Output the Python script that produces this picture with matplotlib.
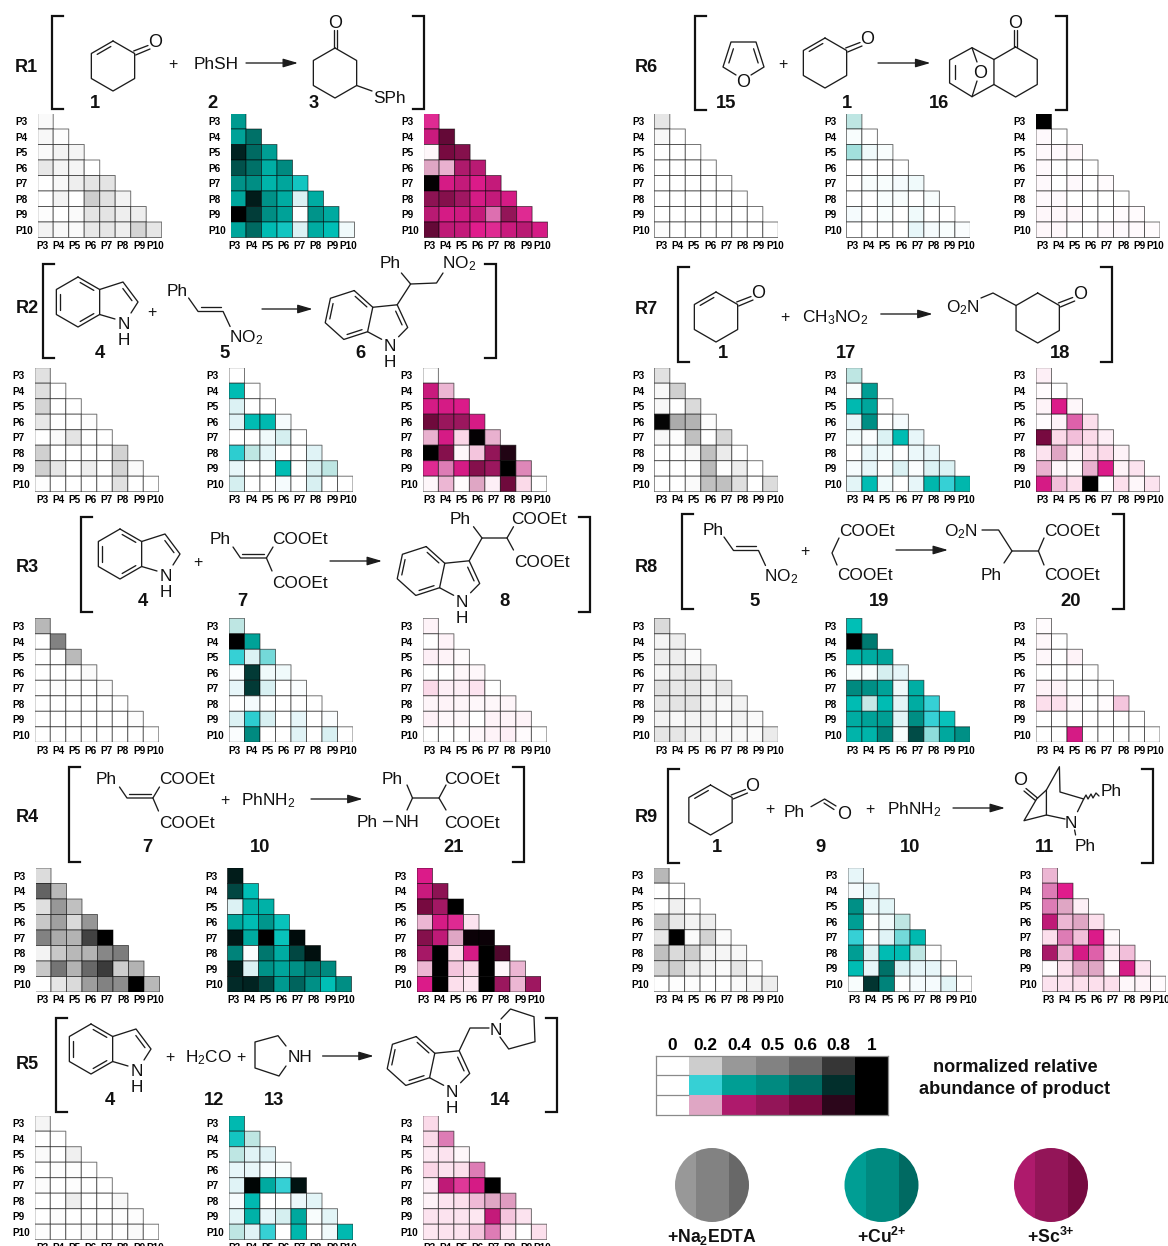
import numpy as np
import matplotlib
matplotlib.use('Agg')
import matplotlib.pyplot as plt
from matplotlib.colors import LinearSegmentedColormap
from matplotlib.patches import Circle, Rectangle

plt.rcParams['font.family'] = ['Liberation Sans', 'DejaVu Sans']
plt.rcParams['mathtext.fontset'] = 'custom'
plt.rcParams['mathtext.rm'] = 'Liberation Sans'
plt.rcParams['mathtext.bf'] = 'Liberation Sans:bold'
plt.rcParams['mathtext.default'] = 'regular'

# data: each row is one Px, cells P3..Px
PEPTIDES = ['P3', 'P4', 'P5', 'P6', 'P7', 'P8', 'P9', 'P10']
LEVELS = [0, 0.2, 0.4, 0.5, 0.6, 0.8, 1]
LEVEL_LABELS = ['0', '0.2', '0.4', '0.5', '0.6', '0.8', '1']

R1_EDTA = [[.02], [.03, .01], [.02, .05, .04], [.09, .04, .04, 0], [0, .03, .07, .11, .11],
           [0, .05, 0, .2, .12, .05], [.01, 0, .02, .11, .11, .07, .07], [.05, .03, .02, .09, .1, .07, .17, .1]]
R1_CU = [[.42], [.38, .58], [.85, .6, .4], [.68, .58, .32, .5], [.46, .48, .3, .36, .24],
         [.36, .88, .46, .33, .08, .33], [1, .75, .48, .38, 0, .45, .34], [.36, .6, .27, .24, .08, .33, .26, .03]]
R1_SC = [[.3], [.35, .65], [.02, .6, .55], [.2, .17, .4, .38], [.98, .33, .36, .32, .36],
         [.52, .55, .45, .33, .36, .33], [.38, .33, .34, .36, .25, .5, .3], [.65, .37, .36, .31, .3, .35, .38, .33]]

R2_EDTA = [[.12], [.13, 0], [.17, 0, 0], [.09, 0, 0, .01], [0, .02, .11, 0, 0],
           [.19, 0, 0, 0, 0, .18], [.19, .1, 0, .07, 0, .17, .02], [.01, 0, 0, 0, 0, .12, 0, 0]]
R2_CU = [[0], [.27, 0], [.08, 0, 0], [.07, .27, .28, .02], [0, 0, .03, .1, 0],
         [.21, .13, .06, 0, 0, .07], [.05, 0, 0, .27, 0, .09, .13], [.1, 0, 0, .02, 0, .09, 0, 0]]
R2_SC = [[0], [.35, .16], [.33, .33, .32], [.62, .48, .47, .33], [.17, .33, .1, .98, .17],
         [1, .55, .02, .13, .5, .85], [.3, .24, .33, .55, .47, 1, .23], [.02, .16, .01, .2, .04, .62, .09, 0]]

R3_EDTA = [[.28], [0, .5], [0, 0, .27], [0, 0, 0, .02], [0, .01, 0, 0, .015],
           [0, 0, 0, 0, 0, 0], [0, 0, 0, 0, 0, 0, .015], [0, 0, 0, 0, 0, 0, 0, 0]]
R3_CU = [[.13], [1, .38], [.2, .08, .17], [.01, .76, .03, .03], [.05, .76, .09, 0, .01],
         [0, .02, 0, 0, 0, 0], [.08, .21, .09, 0, .05, 0, .01], [.01, .5, 0, 0, .07, 0, .09, 0]]
R3_SC = [[.03], [0, .03], [.04, .03, .01], [0, 0, .02, .02], [.09, .04, .04, .07, 0],
         [.025, .03, .025, .02, .02, .025], [.035, .02, .02, 0, .03, .03, .03], [0, 0, 0, .02, .03, .04, .01, 0]]

R4_EDTA = [[.14], [.62, .28], [.13, .4, .25], [.22, .37, .15, .41], [.5, .33, .3, .75, 1],
           [.05, .22, .28, .3, .48, .52], [.22, .55, .3, .6, .78, .2, .3], [0, .1, .15, .38, .5, .45, 1, .28]]
R4_CU = [[.88], [.72, .26], [.08, .3, .31], [.35, .27, .44, .25], [.9, .34, 1, .25, .95],
         [.52, .01, .56, .33, .72, .93], [.86, .08, .46, .36, .47, .56, .5], [.82, .85, .72, .42, .62, .47, .26, .48]]
R4_SC = [[.32], [.35, .52], [.6, .44, 1], [.16, .33, .3, .07], [.55, .37, .2, .95, .95],
         [.43, 1, .08, .33, 1, .7], [.16, 1, .13, .09, 1, .02, .16], [.32, 1, .08, .06, 1, .47, .16, .46]]

R5_EDTA = [[.04], [0, 0], [.02, 0, .06], [0, .01, .01, 0], [.015, 0, .01, 0, 0],
           [0, 0, .07, 0, 0, .03], [0, .01, 0, 0, 0, .01, .01], [.01, 0, 0, .02, 0, .01, .02, 0]]
R5_CU = [[.28], [.24, .13], [.13, .07, .07], [.05, .05, .02, .015], [.07, .98, .34, .2, .92],
         [.02, .28, 0, 0, .04, .06], [.06, .31, .05, .1, .35, .015, .06], [.13, .07, .2, 0, .29, 0, .03, .28]]
R5_SC = [[.09], [.09, .24], [.05, .07, .02], [.1, .07, .08, .24], [.04, .37, .29, .33, 1],
         [.03, .07, .08, .15, .2, .21], [.07, .07, .07, .06, .36, .13, .07], [.06, .07, .07, .13, .24, .07, 0, .08]]

R6_EDTA = [[.1], [.03, 0], [0, 0, 0], [0, 0, 0, 0], [0, 0, 0, 0, 0],
           [0, 0, 0, 0, 0, 0], [0, 0, 0, 0, 0, 0, 0], [.015, 0, 0, 0, 0, 0, 0, 0]]
R6_CU = [[.13], [.015, 0], [.15, .03, .015], [0, 0, 0, 0], [0, .015, .015, .02, .03],
         [0, 0, .015, .015, 0, .015], [.02, 0, .015, 0, .03, 0, 0], [0, 0, 0, 0, .05, .02, .015, .01]]
R6_SC = [[1], [.015, 0], [.015, .015, .02], [.015, 0, 0, 0], [.015, 0, .015, 0, .01],
         [.015, .015, 0, 0, 0, 0], [.02, .02, .02, 0, 0, .01, .01], [.02, .02, 0, 0, .015, .015, .015, .01]]

R7_EDTA = [[.12], [.03, .19], [.03, 0, .15], [.98, .33, .3, .01], [.03, .01, .25, 0, .16],
           [0, 0, .03, .25, .08, 0], [0, 0, 0, .27, .01, .07, 0], [0, 0, .02, .25, .25, .13, 0, .14]]
R7_CU = [[.13], [.015, .4], [.28, .36, 0], [.05, .48, 0, .02], [.03, .01, .08, .27, .05],
         [0, .05, .03, 0, .04, .05], [.02, .05, 0, .08, .01, .08, .08], [.06, .27, .03, 0, .05, .29, .2, .29]]
R7_SC = [[.04], [.01, 0], [.03, .32, .02], [.01, .03, .26, .08], [.6, .09, .14, .09, .04],
         [.07, .2, .03, .08, .09, .03], [.17, .02, .01, .17, .32, .03, .07], [.33, .14, .08, 1, 0, .08, .02, .07]]

R8_EDTA = [[.15], [.04, .07], [.07, .07, .02], [.04, .08, .1, .07], [.12, .09, .1, .05, .09],
           [.09, .11, .11, .05, .03, .05], [.05, .03, .05, .05, 0, .05, .02], [.1, .1, .06, .05, .03, .03, .02, .08]]
R8_CU = [[.26], [1, .55], [.3, .33, .37], [.015, .015, .1, .05], [.5, .47, .38, .03, .32],
         [.27, .12, .27, .06, .33, .2], [.33, .38, .4, .06, .48, .2, .25], [.3, .3, .52, .015, .7, .16, .35, .47]]
R8_SC = [[.01], [.02, 0], [.02, 0, .03], [0, 0, 0, 0], [.03, .03, 0, 0, 0],
         [.08, .08, .02, 0, .01, .13], [0, 0, 0, 0, 0, 0, 0], [0, 0, .33, 0, 0, 0, 0, 0]]

R9_EDTA = [[.28], [0, 0], [0, .06, 0], [.22, .09, .05, .07], [.1, 1, .02, .18, .02],
           [.25, .15, .2, .05, .04, .03], [.17, .2, .08, .05, .02, .1, .01], [0, .01, .01, 0, 0, .02, .04, .07]]
R9_CU = [[.05], [.02, .05], [.47, .04, .06], [.4, 0, .03, .13], [.2, 0, .07, .17, .28],
         [.4, .08, .27, .27, .13, 0], [.27, .05, .58, .08, .05, .05, 0], [.015, .78, .52, 0, .02, .02, .06, 0]]
R9_SC = [[.16], [.24, .31], [.24, .2, .04], [.37, .16, .2, .08], [.08, .24, .14, .32, .02],
         [.42, .16, .33, .26, .06, .14], [.01, .08, .2, .2, .01, .33, .07], [.07, .07, .08, .08, .08, .02, .03, .01]]

# colour scales
grey = LinearSegmentedColormap.from_list('grey', [(0, '#ffffff'), (.2, '#cdcdcd'), (.4, '#989898'), (.5, '#828282'),
                                                  (.6, '#686868'), (.8, '#363636'), (1, '#000000')], N=512)
cu = LinearSegmentedColormap.from_list('cu', [(0, '#ffffff'), (.05, '#e6f6f9'), (.1, '#d5eff0'), (.14, '#b5e3de'), (.2, '#35d0d5'),
                                              (.26, '#00bfb6'), (.32, '#00aea4'), (.4, '#009e94'), (.5, '#008a80'),
                                              (.6, '#006a62'), (.8, '#022f2c'), (1, '#000000')], N=512)
sc = LinearSegmentedColormap.from_list('sc', [(0, '#ffffff'), (.05, '#fdeaf3'), (.1, '#fbd6e7'), (.15, '#efb9d6'), (.2, '#dfa6c4'),
                                              (.25, '#dd70b0'), (.31, '#e01b8c'), (.36, '#c41a7a'), (.4, '#ae1a6c'),
                                              (.5, '#931558'), (.6, '#770a40'), (.8, '#2c061b'), (1, '#000000')], N=512)

W, H = 1168, 1246
fig = plt.figure(figsize=(W / 100, H / 100), dpi=100)
ax = fig.add_axes([0, 0, 1, 1])
ax.set_xlim(0, W)
ax.set_ylim(H, 0)
ax.axis('off')
CELL = 15.5


def heatmap(x0, y0, rows, cmap, lab):
    # lab is the pixel centre of the first column label, the labels run a bit wider than the cells
    grid = np.ma.masked_all((8, 8))
    for i, row in enumerate(rows):
        grid[i, :len(row)] = row
    a = fig.add_axes([x0 / W, 1 - (y0 + 8 * CELL) / H, 8 * CELL / W, 8 * CELL / H])
    a.pcolor(np.arange(9), np.arange(9), grid, cmap=cmap, vmin=0, vmax=1, edgecolors=(0, 0, 0, .55), linewidth=0.7)
    a.set_xlim(0, 8)
    a.set_ylim(8, 0)
    for s in a.spines.values():
        s.set_visible(False)
    a.patch.set_alpha(0)
    a.set_xticks((lab - x0 + np.arange(8) * 16.2) / CELL, PEPTIDES, fontsize=7.2, fontweight='bold')
    a.set_yticks(np.arange(8) + .5, PEPTIDES, fontsize=7.2, fontweight='bold')
    a.tick_params(length=0)
    a.tick_params(axis='x', pad=2.5)
    a.tick_params(axis='y', pad=16)
    for t in a.get_yticklabels():
        t.set_ha('left')


heatmap(37.7, 113.5, R1_EDTA, grey, 42); heatmap(230.5, 113.5, R1_CU, cu, 234.8); heatmap(423.6, 113.5, R1_SC, sc, 429)
heatmap(34.8, 367.7, R2_EDTA, grey, 42); heatmap(229, 367.7, R2_CU, cu, 234.8); heatmap(422.9, 367.7, R2_SC, sc, 429)
heatmap(34.8, 618.3, R3_EDTA, grey, 42); heatmap(229, 618.3, R3_CU, cu, 234.8); heatmap(422.9, 618.3, R3_SC, sc, 429)
heatmap(35.5, 868, R4_EDTA, grey, 42); heatmap(227.5, 868, R4_CU, cu, 233); heatmap(417, 868, R4_SC, sc, 423)
heatmap(34.8, 1115.7, R5_EDTA, grey, 42); heatmap(229, 1115.7, R5_CU, cu, 234.8); heatmap(422.9, 1115.7, R5_SC, sc, 429)
heatmap(654.3, 113.5, R6_EDTA, grey, 661.6); heatmap(846.4, 113.5, R6_CU, cu, 852.5); heatmap(1036, 113.5, R6_SC, sc, 1042)
heatmap(654.3, 367.7, R7_EDTA, grey, 661.6); heatmap(846.4, 367.7, R7_CU, cu, 852.5); heatmap(1036, 367.7, R7_SC, sc, 1042)
heatmap(654.3, 618.3, R8_EDTA, grey, 661.6); heatmap(846.4, 618.3, R8_CU, cu, 852.5); heatmap(1036, 618.3, R8_SC, sc, 1042)
heatmap(653.6, 867.7, R9_EDTA, grey, 661.6); heatmap(848, 867.7, R9_CU, cu, 854.7); heatmap(1042, 867.7, R9_SC, sc, 1048)


# drawing helpers for the reaction schemes, all in picture pixels
def line(*pts, lw=0.95):
    xs, ys = zip(*pts)
    ax.plot(xs, ys, color='#1c1c1c', lw=lw, solid_capstyle='round', solid_joinstyle='round')


def txt(x, y, s, size=12.4, weight='normal'):
    ax.text(x, y + 1.3, s, fontsize=size, fontweight=weight, ha='center', va='center', color='#111111')


def num(x, y, s):
    txt(x, y, s, size=13.2, weight='bold')


def plus(x, y):
    txt(x, y, '+', size=11.5)


def arrow(x0, x1, y):
    ax.annotate('', xy=(x1, y), xytext=(x0, y),
                arrowprops=dict(arrowstyle='-|>,head_length=0.75,head_width=0.22', lw=0.95, color='#1c1c1c',
                                shrinkA=0, shrinkB=0, mutation_scale=12))


def brackets(x0, x1, y0, y1, tick=11):
    ax.plot([x0 + tick, x0, x0, x0 + tick], [y0, y0, y1, y1], color='#111111', lw=1.6, solid_joinstyle='miter')
    ax.plot([x1 - tick, x1, x1, x1 - tick], [y0, y0, y1, y1], color='#111111', lw=1.6, solid_joinstyle='miter')


def hexagon(cx, cy, r=25, rot=0):
    ang = np.radians(np.array([-90, -30, 30, 90, 150, 210]) + rot)
    return [(cx + r * np.cos(t), cy + r * np.sin(t)) for t in ang]


def inner(p, q, c, f=.17, trim=.12):
    a = (p[0] + (c[0] - p[0]) * f, p[1] + (c[1] - p[1]) * f)
    b = (q[0] + (c[0] - q[0]) * f, q[1] + (c[1] - q[1]) * f)
    line((a[0] + (b[0] - a[0]) * trim, a[1] + (b[1] - a[1]) * trim),
         (b[0] + (a[0] - b[0]) * trim, b[1] + (a[1] - b[1]) * trim))


def cyclohexenone(cx, cy):
    v = hexagon(cx, cy)
    line(*v, v[0])
    inner(v[5], v[0], (cx, cy))
    line((v[1][0] - 1, v[1][1] - 2.5), (cx + 35, cy - 20.5))
    line((v[1][0] + 1, v[1][1] + 1.5), (cx + 37, cy - 17))
    txt(cx + 42, cy - 25, 'O', size=13)


def cyclohexanone(cx, cy):
    v = hexagon(cx, cy)
    line(*v, v[0])
    line((v[1][0] - 1, v[1][1] - 2.5), (cx + 35, cy - 20.5))
    line((v[1][0] + 1, v[1][1] + 1.5), (cx + 37, cy - 17))
    txt(cx + 42, cy - 25, 'O', size=13)
    return v


def indole(cx, cy, rot=0):
    c, s = np.cos(np.radians(rot)), np.sin(np.radians(rot))
    P = lambda x, y: (cx + x * c - y * s, cy + x * s + y * c)
    v = hexagon(cx, cy, rot=rot)
    line(*v, v[0])
    inner(v[0], v[1], (cx, cy))
    inner(v[2], v[3], (cx, cy))
    inner(v[4], v[5], (cx, cy))
    c3, c2, n = P(45, -20), P(60, 0), P(46, 21)
    line(v[1], c3, c2, P(53, 11))
    inner(c3, c2, P(37, 3), f=.2)
    line(v[2], P(37, 17))
    txt(n[0], n[1], 'N')
    txt(n[0], n[1] + 16, 'H')
    return c3


def benzylidene(x, y):
    # Ph-CH=C(COOEt)2, placed from the Ph label
    txt(x, y, 'Ph')
    line((x + 13, y + 9), (x + 20.5, y + 20), (x + 46.4, y + 20), (x + 53, y + 9))
    line((x + 22, y + 15.5), (x + 44, y + 15.5))
    line((x + 46.4, y + 20), (x + 52, y + 33))
    txt(x + 80, y, 'COOEt')
    txt(x + 80, y + 44, 'COOEt')


def nitrostyrene(x, y):
    txt(x, y, 'Ph')
    line((x + 11, y + 8), (x + 20.5, y + 21.5), (x + 45.5, y + 21.5), (x + 52.5, y + 36.5))
    line((x + 23, y + 17), (x + 43, y + 17))
    txt(x + 68.5, y + 46, r'NO$_2$')


# R1
txt(26, 66, 'R1', size=13, weight='bold')
brackets(52, 424, 16, 109)
cyclohexenone(113, 66)
plus(173, 63); txt(216, 63, 'PhSH'); arrow(246, 298, 63)
v = hexagon(335, 73)
line(*v, v[0])
line((333.5, 48), (333.5, 30)); line((336.5, 48), (336.5, 30))
txt(335, 22, 'O', size=13)
line(v[2], (372, 91)); txt(390, 97, 'SPh')
num(95, 102, '1'); num(212, 102, '2'); num(314, 102, '3')

# R2
txt(27, 307, 'R2', size=13, weight='bold')
brackets(43, 496, 264, 358)
indole(78, 302)
plus(152, 311); nitrostyrene(177.6, 290); arrow(262, 312.6, 309)
c3 = indole(349, 315, rot=12)
line(c3, (410.6, 284), (436.5, 283), (443, 273))
line((410.6, 284), (401.4, 273))
txt(390, 262, 'Ph'); txt(459.5, 262, r'NO$_2$')
num(100, 352, '4'); num(225, 352, '5'); num(360, 352, '6')

# R3
txt(27, 566, 'R3', size=13, weight='bold')
brackets(81, 590, 517, 611.7)
indole(120, 554)
plus(198, 561); benzylidene(220, 538); arrow(330, 382, 561)
c3 = indole(421, 571, rot=12)
line(c3, (482, 538), (507, 538), (513.5, 526.7))
line((482, 538), (473.5, 526.7)); line((507, 538), (513.5, 550))
txt(460, 518, 'Ph'); txt(539.4, 518, 'COOEt'); txt(542, 561, 'COOEt')
num(143, 600, '4'); num(242, 600, '7'); num(505, 600, '8')

# R4
txt(27, 816, 'R4', size=13, weight='bold')
brackets(69, 524, 767, 861.7)
benzylidene(106.5, 778)
plus(225, 799); txt(268, 799, r'PhNH$_2$'); arrow(311, 362.6, 799)
line((407, 785), (412.5, 798), (439, 798), (446, 785))
line((412.5, 798), (407, 810)); line((439, 798), (446, 810))
txt(392, 778, 'Ph'); txt(472.4, 778, 'COOEt'); txt(472.4, 821.7, 'COOEt')
txt(367, 821, 'Ph'); line((383, 821), (392, 821)); txt(407, 821, 'NH')
num(147, 846, '7'); num(260, 846, '10'); num(454, 846, '21')

# R5
txt(27, 1063, 'R5', size=13, weight='bold')
brackets(55.5, 557, 1018, 1112)
indole(91, 1049)
plus(169.4, 1056); txt(208, 1056, r'H$_2$CO'); plus(240.5, 1056)
line((286, 1046), (278, 1035.7), (255, 1042), (255, 1068), (279, 1076), (286, 1066))
txt(299.7, 1056, 'NH'); arrow(322.6, 373.7, 1056)
c3 = indole(411, 1061, rot=12)
line(c3, (470, 1028), (489, 1028))
txt(495.7, 1029, 'N')
line((501, 1019), (510.5, 1009), (534, 1016.7), (535, 1041.7), (508.7, 1049), (500, 1037))
num(110, 1099, '4'); num(214, 1099, '12'); num(274, 1099, '13'); num(500, 1099, '14')

# R6
txt(646, 66, 'R6', size=13, weight='bold')
brackets(695, 1066.7, 16, 110)
fv = [(731, 42), (756, 42), (764, 67), (723, 67)]
line((736, 75), fv[3], fv[0], fv[1], fv[2], (751, 75))
inner(fv[3], fv[0], (743.5, 60), f=.25); inner(fv[1], fv[2], (743.5, 60), f=.25)
txt(743.5, 81, 'O', size=13)
plus(783, 63); cyclohexenone(825, 63); arrow(878, 930.4, 63)
v = hexagon(1015.6, 72)
line(*v, v[0])
line((1014, 47), (1014, 30)); line((1017, 47), (1017, 30))
txt(1015.6, 22, 'O', size=13)
line(v[5], (972, 47.7), (949.6, 60), (949.6, 83), (972, 96.7), v[4])
line((955, 65), (955, 79))
line((972, 47.7), (977, 62)); line((972, 96.7), (977, 81))
txt(980.4, 71.7, 'O', size=13)
num(726, 102, '15'); num(847, 102, '1'); num(939, 102, '16')

# R7
txt(646, 308, 'R7', size=13, weight='bold')
brackets(678, 1111.6, 267, 361.7)
cyclohexenone(716, 317)
plus(785, 316); txt(834.8, 316.7, r'CH$_3$NO$_2$'); arrow(880.8, 932.6, 314)
v = cyclohexanone(1037.7, 318)
line(v[5], (993, 293), (981, 298))
txt(963, 306, r'O$_2$N')
num(723, 352, '1'); num(846, 352, '17'); num(1060, 352, '18')

# R8
txt(646, 566, 'R8', size=13, weight='bold')
brackets(681.5, 1124, 514, 609)
nitrostyrene(713, 529)
plus(805, 550)
line((839, 538), (832, 553), (837, 565))
txt(867.4, 530, 'COOEt'); txt(864.5, 574, 'COOEt')
arrow(896, 948, 550)
txt(961, 530, r'O$_2$N')
line((982, 530), (998.6, 530), (1012, 551), (1038.4, 551), (1044, 538))
line((1012, 551), (1004, 563)); line((1038.4, 551), (1044, 565))
txt(991, 574, 'Ph'); txt(1071.7, 530, 'COOEt'); txt(1071.7, 574, 'COOEt')
num(755, 600, '5'); num(879, 600, '19'); num(1071, 600, '20')

# R9
txt(646, 816.7, 'R9', size=13, weight='bold')
brackets(667.8, 1152.5, 769, 863)
cyclohexenone(710.5, 810)
plus(770, 808); txt(794.6, 811, 'Ph')
line((811, 806.7), (824.6, 799), (836, 806))
line((824, 803), (834, 809.5))
txt(844.6, 813, 'O', size=13)
plus(870, 808); txt(914, 808, r'PhNH$_2$'); arrow(953, 1005, 808)
txt(1020, 779, 'O', size=13)
line((1026, 788.5), (1037.5, 798)); line((1024, 791), (1035.5, 800.5))
line((1046.4, 790), (1036.6, 799), (1024, 820.7), (1046.4, 815), (1065, 819))
line((1046.4, 815), (1046.4, 790), (1059.4, 766.7), (1060, 792), (1083.7, 799), (1077.5, 811.7))
line((1083.7, 799), (1086, 795), (1088, 799), (1091, 794), (1093, 798), (1096, 793), (1099, 796))
txt(1111, 790, 'Ph'); txt(1071, 821.7, 'N')
line((1074.6, 830), (1075.6, 835)); txt(1085.5, 845, 'Ph')
num(717, 846, '1'); num(820, 846, '9'); num(910, 846, '10'); num(1045, 846, '11')

# legend bar
lg = fig.add_axes([656 / W, 1 - 1115 / H, 232.4 / W, 59.3 / H])
for r, cm in enumerate([grey, cu, sc]):
    lg.pcolormesh(np.arange(8), [r, r + 1], [LEVELS], cmap=cm, vmin=0, vmax=1)
lg.set_xlim(0, 7)
lg.set_ylim(3, 0)
lg.hlines([1, 2], 0, 1, color='#8a8a8a', lw=0.9)
lg.xaxis.tick_top()
lg.set_xticks(np.arange(7) + .5, LEVEL_LABELS, fontsize=12.4, fontweight='bold')
lg.set_yticks([])
lg.tick_params(length=0, pad=2)
for s in lg.spines.values():
    s.set_color('#8a8a8a')
    s.set_linewidth(0.9)
txt(1015, 1066, 'normalized relative', size=13.1, weight='bold')
txt(1015, 1088, 'abundance of product', size=13.1, weight='bold')

# the three metal discs
for cx, cm, label in [(712, grey, r'+Na$_{\mathbf{2}}$EDTA'), (881.5, cu, r'+Cu$^{\mathbf{2{+}}}$'), (1051, sc, r'+Sc$^{\mathbf{3{+}}}$')]:
    clip = Circle((cx, 1185), 37, transform=ax.transData, fc='none', ec='none')
    ax.add_patch(clip)
    for left, width, lev in [(-38, 22, .4), (-16, 33, .5), (17, 21, .6)]:
        ax.add_patch(Rectangle((cx + left, 1147), width, 76, fc=cm(lev), ec='none', clip_path=clip))
    txt(cx, 1236, label, size=12.7, weight='bold')

fig.savefig('out.png', dpi=100)
